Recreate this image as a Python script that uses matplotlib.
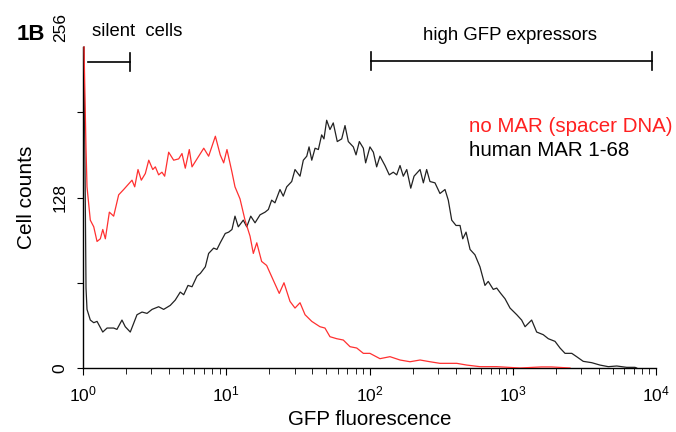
import numpy as np
import matplotlib
matplotlib.use("Agg")
import matplotlib.pyplot as plt
from matplotlib.ticker import LogLocator, NullFormatter

plt.rcParams["font.family"] = ["Liberation Sans", "DejaVu Sans"]
plt.rcParams["mathtext.fontset"] = "custom"
plt.rcParams["mathtext.rm"] = "Liberation Sans"
plt.rcParams["mathtext.it"] = "Liberation Sans:italic"
plt.rcParams["mathtext.bf"] = "Liberation Sans:bold"

# ---- data (log10 of GFP fluorescence, cell counts) ----
red_logx = [0.007, 0.021, 0.028, 0.051, 0.075, 0.098, 0.121, 0.138, 0.156, 0.184, 0.214,
            0.249, 0.284, 0.342, 0.361, 0.384, 0.407, 0.435, 0.459, 0.487, 0.505, 0.528,
            0.551, 0.570, 0.598, 0.633, 0.668, 0.691, 0.714, 0.742, 0.761, 0.796, 0.843,
            0.877, 0.924, 0.958, 0.982, 1.005, 1.040, 1.061, 1.096, 1.131, 1.166, 1.189,
            1.213, 1.247, 1.282, 1.328, 1.370, 1.403, 1.445, 1.480, 1.515, 1.550, 1.597,
            1.654, 1.689, 1.724, 1.771, 1.817, 1.864, 1.911, 1.957, 2.003, 2.073, 2.143,
            2.213, 2.283, 2.353, 2.422, 2.492, 2.609, 2.679, 2.771, 2.888, 3.051, 3.2,
            3.27, 3.4]
red_counts = [241, 165, 136, 111, 106, 95, 97, 104, 97, 117, 114,
              130, 134, 141, 136, 149, 141, 146, 156, 149, 151, 145,
              147, 144, 162, 156, 157, 161, 150, 164, 151, 157, 165,
              159, 174, 160, 154, 164, 147, 136, 127, 111, 99, 86,
              94, 80, 77, 66, 56, 64, 50, 45, 49, 40, 35,
              31, 30, 23.5, 22, 21, 16, 15, 11, 11, 7, 8.5,
              6, 4.7, 6, 4.7, 3.5, 3.5, 2.2, 1, 1, 0, 0.8,
              0.8, 0]

black_logx = [0.007, 0.021, 0.028, 0.051, 0.075, 0.098, 0.138, 0.168, 0.214, 0.237, 0.272,
              0.295, 0.330, 0.377, 0.412, 0.447, 0.482, 0.528, 0.563, 0.609, 0.644, 0.679,
              0.703, 0.733, 0.761, 0.796, 0.819, 0.854, 0.877, 0.912, 0.935, 0.958, 0.993,
              1.017, 1.040, 1.061, 1.084, 1.119, 1.143, 1.171, 1.201, 1.236, 1.271, 1.294,
              1.317, 1.340, 1.375, 1.398, 1.422, 1.457, 1.480, 1.515, 1.538, 1.562, 1.578,
              1.597, 1.620, 1.643, 1.666, 1.682, 1.701, 1.724, 1.747, 1.775, 1.806, 1.829,
              1.852, 1.887, 1.906, 1.929, 1.957, 1.973, 2.003, 2.027, 2.050, 2.073, 2.108,
              2.138, 2.166, 2.190, 2.213, 2.236, 2.260, 2.288, 2.311, 2.353, 2.376, 2.399,
              2.422, 2.457, 2.492, 2.527, 2.550, 2.574, 2.604, 2.632, 2.651, 2.674, 2.702,
              2.736, 2.771, 2.806, 2.829, 2.864, 2.888, 2.916, 2.946, 2.981, 3.028, 3.062,
              3.086, 3.132, 3.167, 3.213, 3.248, 3.295, 3.330, 3.365, 3.412, 3.446, 3.492,
              3.551, 3.609, 3.667, 3.726, 3.795, 3.853, 3.865]
black_counts = [241, 60, 44, 36, 34, 35, 27, 30, 30, 29, 36,
                31, 27, 40, 42, 41, 44, 46, 44, 47, 51, 57,
                55, 62, 61, 69, 71, 76, 86, 90, 89, 94, 101,
                102, 104, 114, 106, 111, 106, 114, 109, 115, 117, 119,
                126, 124, 134, 129, 136, 140, 149, 144, 156, 159, 166,
                156, 165, 164, 175, 172, 186, 179, 184, 170, 172, 182,
                170, 166, 160, 170, 165, 154, 166, 162, 151, 159, 152,
                145, 147, 145, 152, 144, 149, 135, 144, 149, 139, 149,
                140, 139, 131, 134, 126, 111, 107, 107, 97, 102, 89,
                85, 76, 62, 65, 59, 60, 56, 52, 45, 40, 36,
                31, 36, 27, 25, 22, 20, 15, 11, 11, 8.5, 5,
                4, 2.2, 1, 1.5, 0.5, 0.5, 0]

xtick_exps = [0, 1, 2, 3, 4]
ytick_vals = [0, 64, 128, 192, 256]
ytick_labels = ["0", "", "128", "", "256"]

fig = plt.figure(figsize=(6.76, 4.32), dpi=100)
ax = fig.add_axes([83/676, 64/432, 573/676, 341/432])

ax.plot(10 ** np.array(red_logx), red_counts, color="#ff3030", lw=0.9, zorder=3)
ax.plot(10 ** np.array(black_logx), black_counts, color="#222222", lw=0.9, zorder=2)

ax.set_xscale("log")
ax.set_xlim(1, 1e4)
ax.set_ylim(0, 256)

for s in ["top", "right"]:
    ax.spines[s].set_visible(False)
ax.spines["left"].set_bounds(0, 241)
ax.spines["left"].set_linewidth(1.0)
ax.spines["bottom"].set_linewidth(1.0)

ax.set_xticks([10.0 ** e for e in xtick_exps])
ax.set_xticklabels([f"$10^{{{e}}}$" for e in xtick_exps], fontsize=12.5)
ax.xaxis.set_minor_locator(LogLocator(base=10, subs=np.arange(2, 10)))
ax.xaxis.set_minor_formatter(NullFormatter())
ax.tick_params(axis="x", which="major", length=5, direction="out", pad=7)
ax.tick_params(axis="x", which="minor", length=4, direction="out")

ax.set_yticks(ytick_vals)
ax.set_yticklabels(ytick_labels, rotation=90, va="center", fontsize=12.5)
ax.tick_params(axis="y", length=4, direction="out", pad=7)
ax.get_yticklines()[-2].set_visible(False)

ax.set_xlabel("GFP fluorescence", fontsize=14.8, labelpad=4)
ax.set_ylabel("Cell counts", fontsize=15, labelpad=12)

# Annotations (figure coords)
fig.text(17/676, 1 - 35/432, "1B", fontsize=16, fontweight="bold", va="center", ha="left")
fig.text(92/676, 1 - 32/432, "silent  cells", fontsize=13.3, va="center", ha="left")
fig.text(510/676, 1 - 35/432, "high GFP expressors", fontsize=13.4, va="center", ha="center")

# brackets
fig.add_artist(plt.Line2D([88/676, 130/676], [1 - 62/432, 1 - 62/432], color="black", lw=1.2))
fig.add_artist(plt.Line2D([130/676, 130/676], [1 - 53/432, 1 - 71/432], color="black", lw=1.2))
fig.add_artist(plt.Line2D([371/676, 652/676], [1 - 61/432, 1 - 61/432], color="black", lw=1.2))
fig.add_artist(plt.Line2D([371/676, 371/676], [1 - 52/432, 1 - 70/432], color="black", lw=1.2))
fig.add_artist(plt.Line2D([652/676, 652/676], [1 - 52/432, 1 - 70/432], color="black", lw=1.2))

fig.text(469/676, 1 - 126/432, "no MAR (spacer DNA)", fontsize=14.8, color="#ff2020", va="center", ha="left")
fig.text(469/676, 1 - 151/432, "human MAR 1-68", fontsize=14.8, color="black", va="center", ha="left")

fig.savefig("out.png", dpi=100)
